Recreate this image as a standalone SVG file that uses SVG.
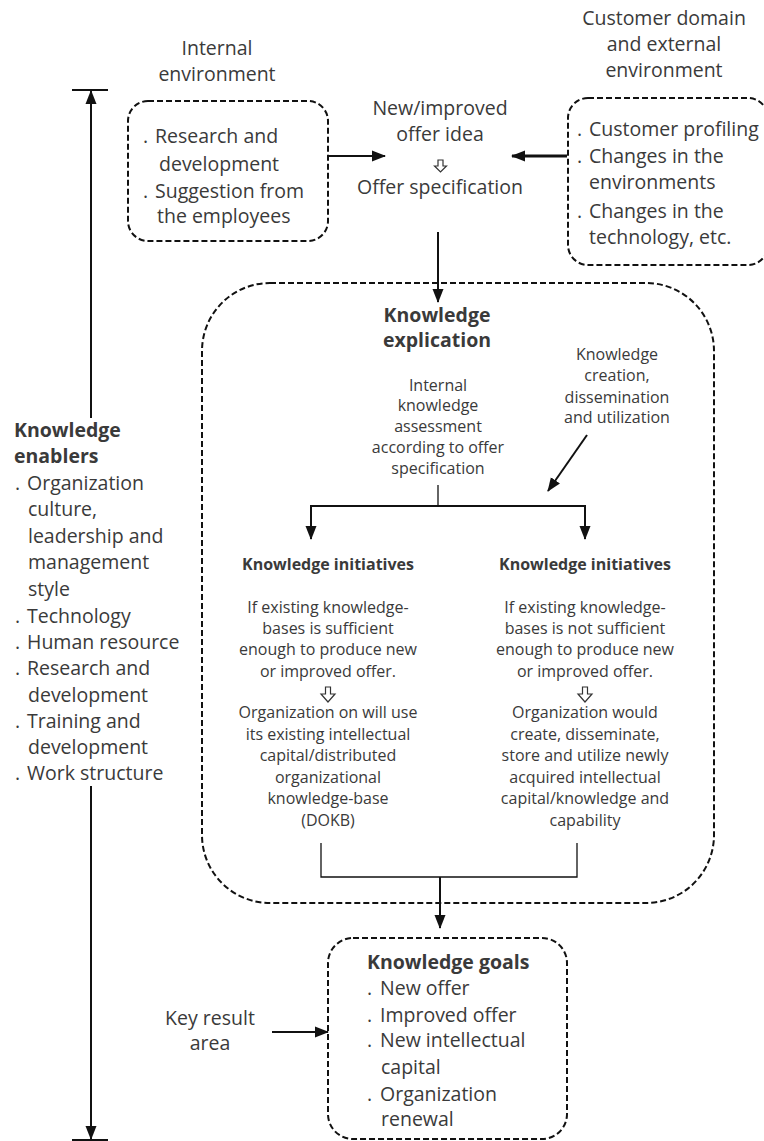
<svg xmlns="http://www.w3.org/2000/svg" width="764" height="1141" viewBox="0 0 764 1141">
<defs>
<style>
text{font-family:"Open Sans","Liberation Sans",sans-serif;fill:#3a3a3a;}
.m{font-size:19.5px;}
.s{font-size:16px;}
.b{font-weight:bold;}
.c{text-anchor:middle;}
.box{fill:none;stroke:#111;stroke-width:2;stroke-dasharray:6 3;}
.ln{fill:none;stroke:#111;stroke-width:2;}
.thin{fill:none;stroke:#111;stroke-width:1.3;}
.ha{fill:#fff;stroke:#333;stroke-width:1.2;}
</style>
<marker id="ah" markerWidth="14" markerHeight="12" refX="13" refY="6" orient="auto" markerUnits="userSpaceOnUse">
<path d="M0,0.5 L14,6 L0,11.5 Z" fill="#111"/>
</marker>
</defs>
<rect width="764" height="1141" fill="#fff"/>

<g id="enablers">
<text class="m b" x="14" y="437">Knowledge</text>
<text class="m b" x="14" y="463">enablers</text>
<text class="m" x="15" y="490">. <tspan x="27">Organization</tspan></text>
<text class="m" x="28" y="516">culture,</text>
<text class="m" x="28" y="543">leadership and</text>
<text class="m" x="28" y="569">management</text>
<text class="m" x="28" y="596">style</text>
<text class="m" x="15" y="623">. <tspan x="27">Technology</tspan></text>
<text class="m" x="15" y="649">. <tspan x="27">Human resource</tspan></text>
<text class="m" x="15" y="675">. <tspan x="27">Research and</tspan></text>
<text class="m" x="28" y="702">development</text>
<text class="m" x="15" y="728">. <tspan x="27">Training and</tspan></text>
<text class="m" x="28" y="754">development</text>
<text class="m" x="15" y="780">. <tspan x="27">Work structure</tspan></text>
</g>

<g id="internal">
<text class="m c" x="217" y="55">Internal</text>
<text class="m c" x="217" y="81">environment</text>
<rect class="box" x="128" y="101" width="200" height="140" rx="20"/>
<text class="m" x="143" y="143">. <tspan x="155">Research and</tspan></text>
<text class="m" x="159" y="171">development</text>
<text class="m" x="143" y="198">. <tspan x="155">Suggestion from</tspan></text>
<text class="m" x="157" y="223">the employees</text>
</g>

<g id="offer">
<text class="m c" x="440" y="115">New/improved</text>
<text class="m c" x="440" y="141">offer idea</text>
<path class="ha" d="M438,160 h5 v6 h3.5 l-6,6 l-6,-6 h3.5 z"/>
<text class="m c" x="440" y="194">Offer specification</text>
</g>

<g id="external">
<text class="m c" x="664" y="25">Customer domain</text>
<text class="m c" x="664" y="51">and external</text>
<text class="m c" x="664" y="77">environment</text>
<rect class="box" x="568" y="98" width="200" height="167" rx="20"/>
<text class="m" x="577" y="136">. <tspan x="589">Customer profiling</tspan></text>
<text class="m" x="577" y="163">. <tspan x="589">Changes in the</tspan></text>
<text class="m" x="589" y="189">environments</text>
<text class="m" x="577" y="218">. <tspan x="589">Changes in the</tspan></text>
<text class="m" x="589" y="244">technology, etc.</text>
</g>

<g id="explication">
<rect class="box" x="202" y="283" width="512" height="620" rx="68"/>
<text class="m b c" x="437" y="322">Knowledge</text>
<text class="m b c" x="437" y="347">explication</text>
<text class="s c" x="438" y="391">Internal</text>
<text class="s c" x="438" y="411">knowledge</text>
<text class="s c" x="438" y="432">assessment</text>
<text class="s c" x="438" y="453">according to offer</text>
<text class="s c" x="438" y="474">specification</text>
<text class="s c" x="617" y="360">Knowledge</text>
<text class="s c" x="617" y="381">creation,</text>
<text class="s c" x="617" y="403">dissemination</text>
<text class="s c" x="617" y="423">and utilization</text>
</g>

<g id="initiative-left">
<text class="s b c" x="328" y="570">Knowledge initiatives</text>
<text class="s c" x="328" y="613">If existing knowledge-</text>
<text class="s c" x="328" y="634">bases is sufficient</text>
<text class="s c" x="328" y="655">enough to produce new</text>
<text class="s c" x="328" y="677">or improved offer.</text>
<path class="ha" d="M325.5,687 h5 v7 h4.5 l-7,8 l-7,-8 h4.5 z"/>
<text class="s c" x="328" y="718">Organization on will use</text>
<text class="s c" x="328" y="740">its existing intellectual</text>
<text class="s c" x="328" y="761">capital/distributed</text>
<text class="s c" x="328" y="783">organizational</text>
<text class="s c" x="328" y="804">knowledge-base</text>
<text class="s c" x="328" y="826">(DOKB)</text>
</g>

<g id="initiative-right">
<text class="s b c" x="585" y="570">Knowledge initiatives</text>
<text class="s c" x="585" y="613">If existing knowledge-</text>
<text class="s c" x="585" y="634">bases is not sufficient</text>
<text class="s c" x="585" y="655">enough to produce new</text>
<text class="s c" x="585" y="677">or improved offer.</text>
<path class="ha" d="M582.5,687 h5 v7 h4.5 l-7,8 l-7,-8 h4.5 z"/>
<text class="s c" x="585" y="718">Organization would</text>
<text class="s c" x="585" y="740">create, disseminate,</text>
<text class="s c" x="585" y="761">store and utilize newly</text>
<text class="s c" x="585" y="783">acquired intellectual</text>
<text class="s c" x="585" y="804">capital/knowledge and</text>
<text class="s c" x="585" y="826">capability</text>
</g>

<g id="goals">
<rect class="box" x="328" y="938" width="239" height="201" rx="25"/>
<text class="m b" x="367" y="969">Knowledge goals</text>
<text class="m" x="367" y="995">. <tspan x="380">New offer</tspan></text>
<text class="m" x="367" y="1022">. <tspan x="380">Improved offer</tspan></text>
<text class="m" x="367" y="1047">. <tspan x="380">New intellectual</tspan></text>
<text class="m" x="381" y="1074">capital</text>
<text class="m" x="367" y="1101">. <tspan x="380">Organization</tspan></text>
<text class="m" x="381" y="1126">renewal</text>
</g>

<g id="key-result">
<text class="m c" x="210" y="1025">Key result</text>
<text class="m c" x="210" y="1050">area</text>
</g>

<g id="connectors">
<line class="ln" x1="72" y1="90" x2="108" y2="90"/>
<line class="ln" x1="91" y1="418" x2="91" y2="91" marker-end="url(#ah)"/>
<line class="ln" x1="91" y1="786" x2="91" y2="1139" marker-end="url(#ah)"/>
<line class="ln" x1="72" y1="1140" x2="108" y2="1140"/>
<line class="ln" x1="329" y1="156" x2="385" y2="156" marker-end="url(#ah)"/>
<line class="ln" x1="567" y1="156" x2="512" y2="156" marker-end="url(#ah)" style="stroke-width:3"/>
<line class="ln" x1="438" y1="232" x2="438" y2="302" marker-end="url(#ah)"/>
<line class="ln" x1="587" y1="435" x2="548" y2="491" marker-end="url(#ah)"/>
<line class="thin" x1="438" y1="485" x2="438" y2="506"/>
<polyline class="ln" points="311,525 311,506 585,506 585,525"/>
<line class="ln" x1="311" y1="520" x2="311" y2="539" marker-end="url(#ah)"/>
<line class="ln" x1="585" y1="520" x2="585" y2="539" marker-end="url(#ah)"/>
<polyline class="thin" points="321,843 321,877 577,877 577,843"/>
<line class="ln" x1="440" y1="877" x2="440" y2="928" marker-end="url(#ah)"/>
<line class="ln" x1="272" y1="1032" x2="328" y2="1032" marker-end="url(#ah)"/>
</g>
</svg>
